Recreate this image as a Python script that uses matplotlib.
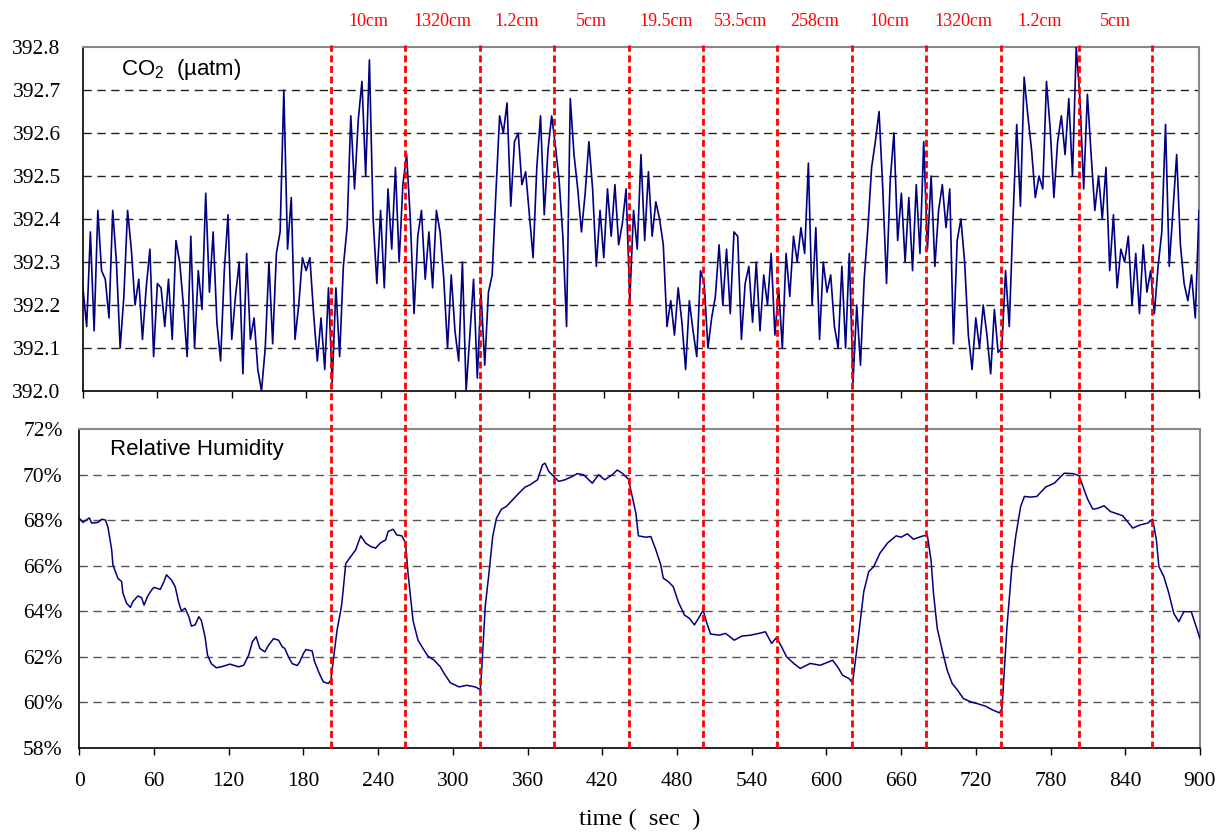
import numpy as np
import matplotlib
matplotlib.use('Agg')
import matplotlib.pyplot as plt
from matplotlib.lines import Line2D
from matplotlib import transforms

# CO2 readings, one every 3 s from 0 to 900 s (10 per row = 30 s)
co2 = [392.24, 392.15, 392.37, 392.14, 392.42, 392.28, 392.26, 392.17, 392.42, 392.30,
       392.10, 392.22, 392.42, 392.33, 392.20, 392.26, 392.12, 392.24, 392.33, 392.08,
       392.25, 392.24, 392.15, 392.26, 392.12, 392.35, 392.30, 392.20, 392.08, 392.36,
       392.10, 392.28, 392.19, 392.46, 392.23, 392.37, 392.16, 392.07, 392.28, 392.41,
       392.12, 392.22, 392.30, 392.04, 392.32, 392.12, 392.17, 392.05, 392.00, 392.10,
       392.30, 392.11, 392.32, 392.37, 392.70, 392.33, 392.45, 392.12, 392.20, 392.31,
       392.28, 392.31, 392.18, 392.07, 392.17, 392.05, 392.24, 392.02, 392.24, 392.08,
       392.29, 392.38, 392.64, 392.47, 392.63, 392.72, 392.50, 392.77, 392.40, 392.25,
       392.42, 392.24, 392.47, 392.33, 392.52, 392.30, 392.48, 392.55, 392.40, 392.18,
       392.36, 392.42, 392.26, 392.37, 392.24, 392.42, 392.37, 392.26, 392.10, 392.27,
       392.14, 392.07, 392.30, 392.00, 392.13, 392.26, 392.03, 392.23, 392.06, 392.23,
       392.27, 392.46, 392.64, 392.60, 392.67, 392.43, 392.58, 392.60, 392.48, 392.51,
       392.41, 392.31, 392.52, 392.64, 392.41, 392.56, 392.64, 392.57, 392.49, 392.36,
       392.15, 392.68, 392.55, 392.47, 392.37, 392.46, 392.58, 392.47, 392.29, 392.42,
       392.31, 392.47, 392.36, 392.48, 392.34, 392.39, 392.47, 392.21, 392.42, 392.33,
       392.55, 392.35, 392.51, 392.36, 392.44, 392.40, 392.34, 392.15, 392.21, 392.13,
       392.24, 392.16, 392.05, 392.21, 392.14, 392.08, 392.28, 392.25, 392.10, 392.17,
       392.22, 392.34, 392.20, 392.33, 392.18, 392.37, 392.36, 392.12, 392.25, 392.29,
       392.16, 392.30, 392.14, 392.27, 392.20, 392.32, 392.13, 392.24, 392.10, 392.32,
       392.22, 392.36, 392.30, 392.38, 392.32, 392.53, 392.20, 392.38, 392.12, 392.30,
       392.23, 392.27, 392.15, 392.10, 392.29, 392.10, 392.32, 392.02, 392.20, 392.06,
       392.26, 392.38, 392.52, 392.58, 392.65, 392.47, 392.25, 392.49, 392.60, 392.35,
       392.46, 392.30, 392.45, 392.28, 392.48, 392.32, 392.58, 392.33, 392.50, 392.29,
       392.42, 392.48, 392.38, 392.47, 392.11, 392.35, 392.40, 392.30, 392.13, 392.05,
       392.17, 392.10, 392.20, 392.13, 392.04, 392.19, 392.09, 392.10, 392.28, 392.15,
       392.40, 392.62, 392.43, 392.73, 392.64, 392.56, 392.45, 392.50, 392.47, 392.72,
       392.61, 392.45, 392.58, 392.64, 392.55, 392.68, 392.50, 392.80, 392.68, 392.47,
       392.69, 392.55, 392.42, 392.50, 392.40, 392.52, 392.28, 392.41, 392.24, 392.33,
       392.30, 392.36, 392.20, 392.32, 392.18, 392.34, 392.23, 392.28, 392.18, 392.29,
       392.37, 392.62, 392.29, 392.42, 392.55, 392.34, 392.25, 392.21, 392.27, 392.17,
       392.42]
co2_t = np.arange(0, 901, 3)

# relative humidity (%)
rh_t = [0, 3, 8, 10, 15, 18, 21, 23, 26, 27, 31, 34, 35, 38, 41, 43, 47, 50, 52, 55,
        58, 60, 65, 68, 70, 74, 77, 80, 82, 85, 88, 90, 93, 96, 98, 101, 103, 106, 110, 114,
        121, 124, 128, 132, 136, 139, 142, 145, 149, 152, 156, 160, 163, 165, 168, 171, 175, 177, 180, 182,
        187, 189, 193, 196, 200, 202, 204, 207, 210, 211, 214, 218, 222, 226, 230, 234, 238, 242, 246, 248,
        252, 255, 259, 262, 264, 268, 272, 276, 280, 285, 290, 293, 298, 305, 311, 318, 322, 323, 326, 329,
        332, 335, 339, 343, 348, 353, 358, 362, 368, 372, 374, 377, 381, 385, 390, 396, 400, 405, 412, 417,
        422, 428, 432, 436, 441, 444, 447, 449, 455, 459, 463, 467, 469, 473, 477, 481, 486, 490, 494, 498,
        501, 504, 507, 514, 519, 526, 532, 539, 546, 551, 556, 560, 564, 568, 574, 579, 587, 595, 605, 609,
        613, 618, 621, 623, 626, 630, 634, 638, 643, 649, 656, 660, 665, 670, 676, 681, 684, 686, 689, 693,
        697, 701, 705, 710, 716, 721, 728, 733, 739, 741, 743, 745, 749, 752, 756, 759, 764, 769, 776, 783,
        791, 798, 803, 807, 810, 814, 818, 823, 828, 838, 846, 852, 858, 862, 865, 867, 871, 875, 879, 883,
        887, 893, 897, 900]
rh = [68.08, 67.90, 68.10, 67.87, 67.90, 68.04, 68.00, 67.70, 66.70, 66.03, 65.45, 65.30, 64.80, 64.35, 64.17, 64.42, 64.67, 64.60, 64.27, 64.67,
      64.93, 65.05, 64.96, 65.30, 65.60, 65.37, 65.08, 64.35, 64.02, 64.13, 63.76, 63.35, 63.40, 63.76, 63.60, 62.88, 62.07, 61.70, 61.52, 61.56,
      61.68, 61.63, 61.56, 61.63, 62.07, 62.66, 62.88, 62.37, 62.22, 62.51, 62.80, 62.73, 62.44, 62.37, 62.00, 61.70, 61.62, 61.78, 62.15, 62.32,
      62.26, 61.78, 61.24, 60.90, 60.83, 60.97, 61.85, 63.17, 64.05, 64.42, 66.10, 66.40, 66.70, 67.31, 66.99, 66.84, 66.77, 67.01, 67.13, 67.50,
      67.60, 67.35, 67.31, 67.00, 65.67, 63.60, 62.73, 62.37, 62.03, 61.85, 61.56, 61.27, 60.86, 60.68, 60.75, 60.68, 60.56, 61.27, 64.20, 65.67,
      67.28, 68.08, 68.48, 68.60, 68.89, 69.18, 69.45, 69.55, 69.77, 70.43, 70.50, 70.14, 69.92, 69.70, 69.77, 69.92, 70.04, 69.99, 69.62, 69.99,
      69.77, 69.99, 70.20, 70.06, 69.80, 69.04, 68.30, 67.31, 67.25, 67.28, 66.70, 66.03, 65.45, 65.30, 65.08, 64.42, 63.83, 63.69, 63.40, 63.76,
      64.05, 63.47, 63.00, 62.95, 63.03, 62.73, 62.91, 62.95, 63.03, 63.10, 62.59, 62.85, 62.44, 62.00, 61.70, 61.49, 61.71, 61.63, 61.85, 61.56,
      61.19, 61.05, 60.86, 61.71, 63.03, 64.86, 65.74, 65.96, 66.55, 66.99, 67.31, 67.25, 67.40, 67.16, 67.28, 67.35, 66.25, 64.79, 63.25, 62.29,
      61.41, 60.83, 60.56, 60.17, 60.02, 59.95, 59.83, 59.68, 59.54, 59.73, 61.56, 63.32, 65.96, 67.28, 68.60, 69.04, 69.01, 69.04, 69.45, 69.62,
      70.06, 70.04, 69.95, 69.33, 68.89, 68.48, 68.52, 68.63, 68.38, 68.19, 67.65, 67.79, 67.87, 68.04, 67.13, 65.96, 65.52, 64.79, 63.90, 63.54,
      63.98, 63.98, 63.32, 62.80]

# sensor distance changes
switch_t = [200, 260, 320, 380, 440, 500, 560, 620, 680, 740, 803, 862]
dist_labels = ['10cm', '1320cm', '1.2cm', '5cm', '19.5cm', '53.5cm', '258cm',
               '10cm', '1320cm', '1.2cm', '5cm']

serif = 'Liberation Serif'
sans = 'Liberation Sans'
navy = '#000080'

fig = plt.figure(figsize=(12.18, 8.32), dpi=100)
ax1 = fig.add_axes([0.0681, 0.5300, 0.9163, 0.4135])
ax2 = fig.add_axes([0.0651, 0.1010, 0.9201, 0.3834])

for ax in (ax1, ax2):
    for s in ('left', 'bottom'):
        ax.spines[s].set_color('black')
        ax.spines[s].set_linewidth(1.2)
    for s in ('top', 'right'):
        ax.spines[s].set_color('#888888')
        ax.spines[s].set_linewidth(1.5)
    ax.set_xlim(0, 900)
    ax.set_xticks(np.arange(0, 901, 60))
    ax.tick_params(axis='x', direction='out', length=5, width=1, pad=12)
    ax.tick_params(axis='y', length=0)
    for lab in ax.get_xticklabels() + ax.get_yticklabels():
        lab.set_fontfamily(serif)
        lab.set_fontsize(15.5)

# top: CO2
ax1.plot(co2_t, co2, color=navy, lw=1.2, zorder=3)
ax1.set_ylim(392.0, 392.8)
yt = np.round(np.arange(392.0, 392.81, 0.1), 1)
ax1.set_yticks(yt)
ax1.set_yticklabels(['%.1f' % v for v in yt], fontfamily=serif, fontsize=15.5)
ax1.tick_params(axis='y', pad=16)
ax1.set_xticklabels([])
for v in yt[1:-1]:
    ax1.axhline(v, color='#222222', lw=1, dashes=(6, 4), zorder=1)
ax1.text(0.034, 0.935, 'CO$_\\mathregular{2}$  (\u00b5atm)', transform=ax1.transAxes,
         fontfamily=sans, fontsize=16, va='center', ha='left')

# bottom: relative humidity
ax2.plot(rh_t, rh, color=navy, lw=1.1, zorder=3)
ax2.set_ylim(58, 72)
ryt = np.arange(58, 73, 2)
ax2.set_yticks(ryt)
ax2.set_yticklabels(['%d%%' % v for v in ryt], fontfamily=serif, fontsize=15.5)
ax2.tick_params(axis='y', pad=12)
ax2.set_xticklabels([str(v) for v in range(0, 901, 60)], fontfamily=serif, fontsize=15.5)
for v in ryt[1:-1]:
    ax2.axhline(v, color='#555555', lw=1, dashes=(6, 4), zorder=1)
ax2.text(0.027, 0.935, 'Relative Humidity', transform=ax2.transAxes,
         fontfamily=sans, fontsize=16, va='center', ha='left')
ax2.set_xlabel('time (  sec  )', fontfamily=serif, fontsize=17.5, labelpad=13)

# red dashed switch lines through both panels
trans = transforms.blended_transform_factory(ax1.transData, fig.transFigure)
for t in switch_t:
    fig.add_artist(Line2D([t, t], [0.101, 0.946], transform=trans, color='#ff0000',
                          lw=2, linestyle=(0, (2.5, 1.3)), zorder=5))
for i, lab in enumerate(dist_labels):
    xm = (switch_t[i] + switch_t[i + 1]) / 2
    fig.text(xm, 0.9736, lab, transform=trans, color='#ff0000', fontfamily=serif,
             fontsize=13, ha='center', va='center')

fig.savefig('out.png', dpi=100)
